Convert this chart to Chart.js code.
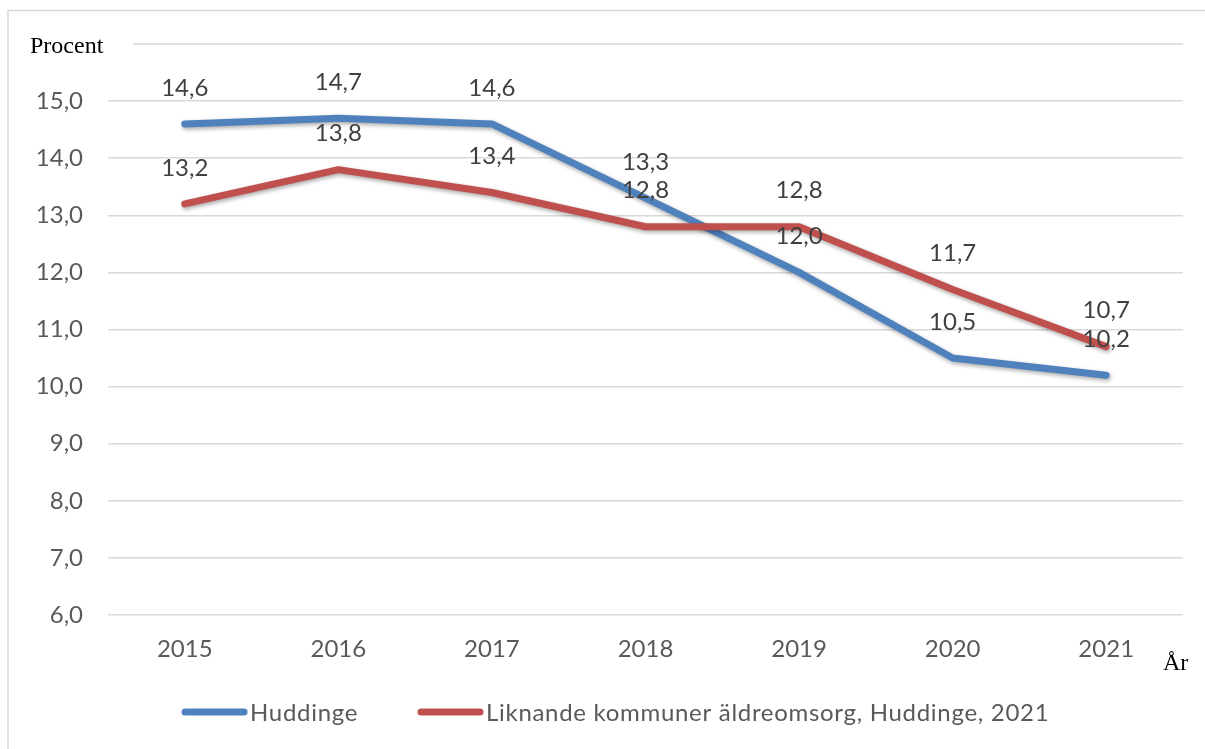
<!DOCTYPE html>
<html>
<head>
<meta charset="utf-8">
<script src="https://cdn.jsdelivr.net/npm/chart.js@4/dist/chart.umd.min.js"></script>
<style>
  html, body { margin: 0; padding: 0; background: #fff; }
  #wrap { width: 1205px; height: 749px; position: relative; }
</style>
</head>
<body>
<div id="wrap"><canvas id="chart" width="1205" height="749"></canvas></div>
<script>
const years = ['2015', '2016', '2017', '2018', '2019', '2020', '2021'];
const huddinge = [14.6, 14.7, 14.6, 13.3, 12.0, 10.5, 10.2];
const liknande = [13.2, 13.8, 13.4, 12.8, 12.8, 11.7, 10.7];
const seriesNames = ['Huddinge', 'Liknande kommuner äldreomsorg, Huddinge, 2021'];
const yMin = 6;
const yMax = 16;

const blue = '#4F81BD';
const red = '#C0504D';
const gridGrey = '#d9d9d9';
const tickFont = { family: 'Lato', size: 24 };

function fmt(v) {
    return v.toFixed(1).replace('.', ',');
}

// grey frame, axis titles, value labels and legend
const extras = {
    id: 'extras',
    beforeDraw(chart) {
        const ctx = chart.ctx;
        ctx.save();
        ctx.strokeStyle = gridGrey;
        ctx.lineWidth = 1.5;
        ctx.beginPath();
        ctx.moveTo(8, 749);
        ctx.lineTo(8, 10.5);
        ctx.lineTo(1205, 10.5);
        ctx.stroke();
        // top gridline starts after the "Procent" title
        const yTop = chart.scales.y.getPixelForValue(yMax);
        ctx.beginPath();
        ctx.moveTo(133, yTop);
        ctx.lineTo(chart.chartArea.right, yTop);
        ctx.stroke();
        ctx.restore();
    },
    beforeDatasetDraw(chart) {
        const ctx = chart.ctx;
        ctx.save();
        ctx.shadowColor = 'rgba(0,0,0,0.35)';
        ctx.shadowBlur = 4;
        ctx.shadowOffsetX = 1;
        ctx.shadowOffsetY = 2;
    },
    afterDatasetDraw(chart) {
        chart.ctx.restore();
    },
    afterDatasetsDraw(chart) {
        const ctx = chart.ctx;
        ctx.save();
        ctx.font = '24px Lato';
        ctx.fillStyle = '#404040';
        ctx.textAlign = 'center';
        ctx.textBaseline = 'middle';
        chart.data.datasets.forEach((ds, i) => {
            chart.getDatasetMeta(i).data.forEach((pt, j) => {
                ctx.fillText(fmt(ds.data[j]), pt.x, pt.y - 36);
            });
        });

        // axis titles
        ctx.fillStyle = '#000';
        ctx.font = '24px "Liberation Serif"';
        ctx.textAlign = 'left';
        ctx.fillText('Procent', 30, 47);
        ctx.fillText('År', 1163, 664);

        // legend
        const colors = [blue, red];
        const starts = [182, 418];
        ctx.font = '24px Lato';
        ctx.letterSpacing = '0.7px';
        starts.forEach((x, i) => {
            ctx.strokeStyle = colors[i];
            ctx.lineWidth = 7;
            ctx.lineCap = 'round';
            ctx.beginPath();
            ctx.moveTo(x + 3, 712);
            ctx.lineTo(x + 62, 712);
            ctx.stroke();
            ctx.fillStyle = '#595959';
            ctx.fillText(seriesNames[i], x + 68, 713);
        });
        ctx.restore();
    }
};

new Chart(document.getElementById('chart'), {
    type: 'line',
    data: {
        labels: years,
        datasets: [
            { label: seriesNames[0], data: huddinge, borderColor: blue, order: 1 },
            { label: seriesNames[1], data: liknande, borderColor: red, order: 0 }
        ]
    },
    options: {
        responsive: false,
        animation: false,
        layout: { padding: { top: 44, right: 22, bottom: 0, left: 0 } },
        elements: {
            line: { borderWidth: 7, tension: 0, borderCapStyle: 'round', borderJoinStyle: 'round', fill: false },
            point: { radius: 0 }
        },
        plugins: { legend: { display: false }, tooltip: { enabled: false } },
        scales: {
            x: {
                offset: true,
                grid: { display: false, drawTicks: false },
                border: { display: false },
                ticks: { font: tickFont, color: '#595959', padding: 20 },
                afterFit(s) { s.height = 134; }
            },
            y: {
                min: yMin,
                max: yMax,
                grid: {
                    color: c => (c.tick && c.tick.value === yMax) ? 'rgba(0,0,0,0)' : gridGrey,
                    lineWidth: 1.5,
                    drawTicks: false
                },
                border: { display: false },
                ticks: {
                    stepSize: 1,
                    font: tickFont,
                    color: '#595959',
                    padding: 25,
                    callback: v => v === yMax ? '' : fmt(v)
                },
                afterFit(s) { s.width = 108; }
            }
        }
    },
    plugins: [extras]
});
</script>
</body>
</html>
